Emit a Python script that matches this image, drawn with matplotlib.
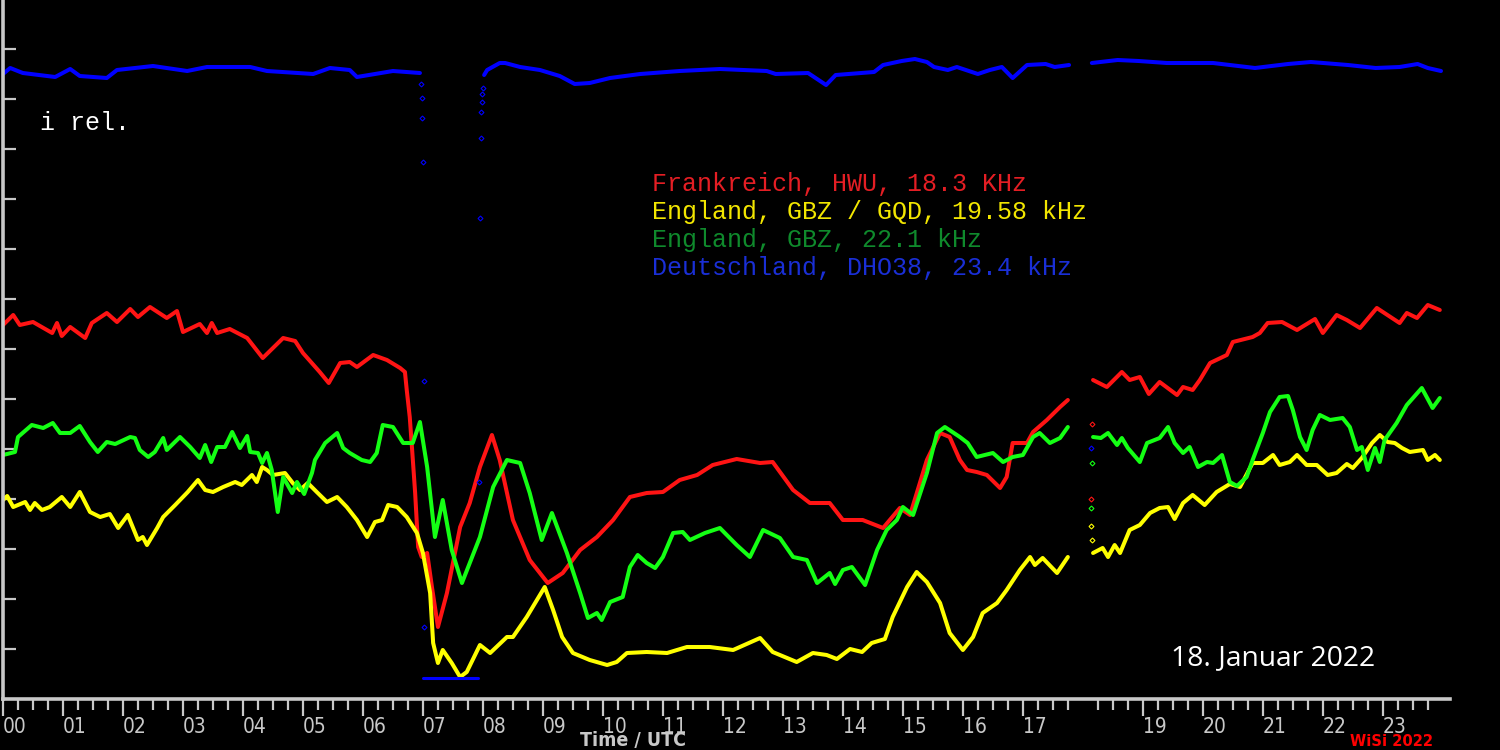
import matplotlib
matplotlib.use("Agg")
import matplotlib.pyplot as plt

# VLF receiver levels, 18 Jan 2022 (hours UTC, relative level)
# each station is split where the recording has gaps
red_a = [(0.00, 7.48), (0.17, 7.68), (0.28, 7.48), (0.50, 7.54), (0.82, 7.32), (0.90, 7.52),
         (0.98, 7.26), (1.12, 7.44), (1.37, 7.22), (1.48, 7.52), (1.73, 7.72), (1.90, 7.54),
         (2.12, 7.80), (2.25, 7.64), (2.45, 7.84), (2.73, 7.62), (2.90, 7.76), (3.00, 7.34),
         (3.28, 7.50), (3.40, 7.32), (3.48, 7.52), (3.57, 7.32), (3.78, 7.40), (4.07, 7.22),
         (4.33, 6.82), (4.67, 7.22), (4.87, 7.16), (5.00, 6.92), (5.28, 6.54), (5.43, 6.32),
         (5.62, 6.72), (5.78, 6.74), (5.90, 6.64), (6.17, 6.88), (6.40, 6.78), (6.62, 6.62),
         (6.70, 6.54), (6.73, 6.18), (6.78, 5.64), (6.82, 4.98), (6.87, 4.12), (6.92, 3.04),
         (6.98, 2.84), (7.07, 2.92), (7.15, 2.24), (7.25, 1.44), (7.40, 2.12), (7.62, 3.44),
         (7.78, 3.92), (7.95, 4.64), (8.15, 5.28), (8.28, 4.78), (8.50, 3.58), (8.78, 2.78),
         (9.08, 2.32), (9.33, 2.52), (9.62, 2.98), (9.90, 3.24), (10.17, 3.58), (10.45, 4.04),
         (10.73, 4.12), (11.00, 4.14), (11.28, 4.38), (11.57, 4.48), (11.83, 4.68), (12.23, 4.80),
         (12.62, 4.72), (12.83, 4.74), (13.17, 4.18), (13.45, 3.92), (13.78, 3.92), (14.00, 3.58),
         (14.33, 3.58), (14.67, 3.42), (14.95, 3.82), (15.12, 3.68), (15.40, 4.78), (15.62, 5.32),
         (15.78, 5.24), (15.95, 4.78), (16.07, 4.58), (16.23, 4.54), (16.40, 4.48), (16.62, 4.22),
         (16.73, 4.44), (16.83, 5.12), (17.07, 5.12), (17.17, 5.34), (17.40, 5.58), (17.62, 5.84),
         (17.75, 5.98)]
red_b = [(18.17, 6.38), (18.40, 6.24), (18.65, 6.54), (18.78, 6.38), (18.95, 6.44), (19.10, 6.10),
         (19.28, 6.34), (19.57, 6.08), (19.67, 6.24), (19.83, 6.18), (19.95, 6.38), (20.12, 6.72),
         (20.40, 6.88), (20.50, 7.14), (20.83, 7.24), (20.95, 7.32), (21.08, 7.52), (21.32, 7.54),
         (21.57, 7.38), (21.87, 7.60), (22.00, 7.32), (22.23, 7.68), (22.40, 7.58), (22.62, 7.42),
         (22.90, 7.82), (23.28, 7.52), (23.40, 7.72), (23.57, 7.62), (23.75, 7.88), (23.95, 7.78)]

yellow_a = [(0.00, 3.98), (0.07, 4.06), (0.17, 3.84), (0.37, 3.94), (0.45, 3.78), (0.53, 3.92),
            (0.65, 3.78), (0.78, 3.84), (0.98, 4.04), (1.12, 3.84), (1.28, 4.14), (1.45, 3.74),
            (1.62, 3.64), (1.78, 3.70), (1.92, 3.42), (2.08, 3.68), (2.25, 3.18), (2.33, 3.24),
            (2.40, 3.08), (2.57, 3.42), (2.67, 3.64), (2.87, 3.88), (3.08, 4.14), (3.25, 4.38),
            (3.37, 4.18), (3.50, 4.14), (3.67, 4.24), (3.87, 4.34), (3.98, 4.28), (4.15, 4.48),
            (4.23, 4.34), (4.32, 4.64), (4.40, 4.58), (4.50, 4.48), (4.70, 4.52), (4.83, 4.32),
            (4.95, 4.18), (5.08, 4.32), (5.23, 4.14), (5.40, 3.94), (5.57, 4.04), (5.73, 3.84),
            (5.90, 3.58), (6.07, 3.24), (6.20, 3.54), (6.32, 3.58), (6.42, 3.88), (6.57, 3.84),
            (6.73, 3.64), (6.90, 3.32), (7.00, 2.92), (7.12, 2.12), (7.17, 1.12), (7.25, 0.72),
            (7.33, 0.98), (7.48, 0.72), (7.62, 0.44), (7.73, 0.54), (7.95, 1.08), (8.12, 0.92),
            (8.40, 1.24), (8.50, 1.24), (8.73, 1.64), (9.03, 2.24), (9.17, 1.78), (9.32, 1.24),
            (9.50, 0.92), (9.78, 0.78), (10.07, 0.68), (10.23, 0.74), (10.40, 0.92), (10.73, 0.94),
            (11.07, 0.92), (11.40, 1.04), (11.78, 1.04), (12.17, 0.98), (12.62, 1.22), (12.83, 0.94),
            (13.23, 0.74), (13.50, 0.92), (13.73, 0.88), (13.90, 0.80), (14.12, 1.00), (14.32, 0.94),
            (14.48, 1.12), (14.70, 1.20), (14.83, 1.64), (15.07, 2.24), (15.23, 2.54), (15.40, 2.34),
            (15.62, 1.92), (15.78, 1.32), (16.00, 0.98), (16.17, 1.24), (16.33, 1.72), (16.57, 1.92),
            (16.73, 2.18), (16.95, 2.58), (17.12, 2.84), (17.20, 2.68), (17.33, 2.82), (17.57, 2.52),
            (17.75, 2.84)]
yellow_b = [(18.17, 2.92), (18.33, 3.02), (18.42, 2.84), (18.53, 3.08), (18.62, 2.92), (18.78, 3.38),
            (18.95, 3.48), (19.12, 3.72), (19.28, 3.82), (19.42, 3.84), (19.53, 3.60), (19.67, 3.92),
            (19.83, 4.08), (20.03, 3.88), (20.23, 4.14), (20.45, 4.30), (20.62, 4.24), (20.83, 4.72),
            (21.00, 4.72), (21.17, 4.88), (21.28, 4.68), (21.45, 4.74), (21.57, 4.88), (21.73, 4.68),
            (21.90, 4.68), (22.08, 4.48), (22.23, 4.52), (22.40, 4.70), (22.50, 4.62), (22.65, 4.82),
            (22.82, 5.12), (22.95, 5.28), (23.08, 5.14), (23.20, 5.12), (23.32, 5.02), (23.45, 4.94),
            (23.67, 4.98), (23.75, 4.78), (23.87, 4.88), (23.95, 4.78)]

green_a = [(0.00, 4.88), (0.20, 4.94), (0.25, 5.24), (0.48, 5.48), (0.67, 5.42), (0.83, 5.52),
           (0.95, 5.32), (1.12, 5.32), (1.28, 5.46), (1.45, 5.14), (1.58, 4.94), (1.73, 5.14),
           (1.87, 5.10), (2.12, 5.24), (2.20, 5.22), (2.28, 4.98), (2.42, 4.84), (2.53, 4.94),
           (2.67, 5.22), (2.73, 4.98), (2.95, 5.24), (3.12, 5.04), (3.28, 4.82), (3.37, 5.08),
           (3.47, 4.74), (3.57, 5.04), (3.70, 5.04), (3.82, 5.34), (3.95, 5.02), (4.07, 5.26),
           (4.12, 4.94), (4.25, 4.92), (4.32, 4.72), (4.40, 4.92), (4.48, 4.58), (4.58, 3.74),
           (4.67, 4.44), (4.82, 4.12), (4.90, 4.34), (5.02, 4.10), (5.15, 4.52), (5.20, 4.78),
           (5.37, 5.12), (5.57, 5.32), (5.67, 5.02), (5.78, 4.92), (5.98, 4.78), (6.12, 4.74),
           (6.23, 4.92), (6.33, 5.48), (6.50, 5.44), (6.67, 5.12), (6.83, 5.12), (6.95, 5.54),
           (7.07, 4.64), (7.20, 3.24), (7.33, 3.98), (7.48, 2.98), (7.65, 2.32), (7.95, 3.24),
           (8.17, 4.24), (8.40, 4.78), (8.62, 4.72), (8.78, 4.12), (8.98, 3.18), (9.15, 3.72),
           (9.40, 2.92), (9.62, 2.12), (9.75, 1.62), (9.90, 1.72), (9.98, 1.58), (10.12, 1.94),
           (10.33, 2.04), (10.45, 2.64), (10.58, 2.88), (10.73, 2.72), (10.87, 2.62), (11.00, 2.84),
           (11.17, 3.32), (11.33, 3.34), (11.45, 3.18), (11.70, 3.32), (11.95, 3.42), (12.23, 3.08),
           (12.45, 2.84), (12.67, 3.38), (12.95, 3.22), (13.17, 2.84), (13.40, 2.78), (13.57, 2.32),
           (13.78, 2.52), (13.87, 2.30), (14.00, 2.58), (14.15, 2.64), (14.37, 2.28), (14.57, 2.98),
           (14.73, 3.38), (14.90, 3.58), (15.00, 3.84), (15.17, 3.68), (15.40, 4.52), (15.57, 5.32),
           (15.70, 5.44), (15.95, 5.24), (16.08, 5.12), (16.23, 4.84), (16.50, 4.92), (16.67, 4.74),
           (16.83, 4.84), (17.00, 4.88), (17.17, 5.24), (17.28, 5.32), (17.45, 5.12), (17.62, 5.22),
           (17.75, 5.44)]
green_b = [(18.17, 5.24), (18.30, 5.22), (18.42, 5.32), (18.57, 5.08), (18.65, 5.22), (18.75, 5.02),
           (18.95, 4.74), (19.07, 5.12), (19.28, 5.22), (19.42, 5.44), (19.53, 5.12), (19.67, 4.92),
           (19.78, 5.04), (19.92, 4.64), (20.07, 4.74), (20.17, 4.72), (20.32, 4.88), (20.45, 4.34),
           (20.57, 4.26), (20.73, 4.44), (20.83, 4.78), (21.00, 5.32), (21.12, 5.74), (21.28, 6.04),
           (21.42, 6.06), (21.50, 5.78), (21.62, 5.24), (21.73, 4.98), (21.83, 5.38), (21.95, 5.68),
           (22.12, 5.58), (22.33, 5.62), (22.45, 5.44), (22.57, 4.98), (22.65, 5.04), (22.75, 4.58),
           (22.87, 5.02), (22.95, 4.74), (23.03, 5.18), (23.23, 5.52), (23.40, 5.88), (23.65, 6.22),
           (23.83, 5.82), (23.95, 6.02)]

blue_a = [(0.00, 12.50), (0.12, 12.62), (0.33, 12.52), (0.87, 12.44), (1.12, 12.60), (1.28, 12.46),
          (1.73, 12.42), (1.90, 12.58), (2.50, 12.66), (3.07, 12.56), (3.40, 12.64), (4.12, 12.64),
          (4.40, 12.56), (5.17, 12.50), (5.45, 12.62), (5.78, 12.58), (5.90, 12.44), (6.50, 12.56),
          (6.95, 12.52)]
blue_low = [(7.00, 0.42), (7.92, 0.42)]
blue_b = [(8.02, 12.48), (8.07, 12.58), (8.28, 12.72), (8.37, 12.72), (8.62, 12.64), (8.95, 12.58),
          (9.28, 12.46), (9.53, 12.30), (9.78, 12.32), (10.12, 12.42), (10.62, 12.50), (11.28, 12.56),
          (11.95, 12.60), (12.73, 12.56), (12.88, 12.50), (13.42, 12.52), (13.72, 12.28), (13.88, 12.48),
          (14.52, 12.54), (14.67, 12.68), (14.98, 12.76), (15.20, 12.80), (15.40, 12.74), (15.52, 12.64),
          (15.75, 12.58), (15.90, 12.64), (16.25, 12.50), (16.45, 12.58), (16.65, 12.64), (16.83, 12.42),
          (17.07, 12.68), (17.38, 12.70), (17.53, 12.64), (17.77, 12.68)]
blue_c = [(18.15, 12.72), (18.58, 12.78), (18.93, 12.76), (19.40, 12.72), (20.17, 12.72), (20.87, 12.62),
          (21.42, 12.70), (21.80, 12.74), (22.42, 12.68), (22.88, 12.62), (23.28, 12.64), (23.58, 12.70),
          (23.75, 12.62), (23.97, 12.56)]

# single samples while the receiver drops out / comes back
blue_drop = [(6.97, 12.30), (6.98, 12.02), (6.99, 11.62), (7.00, 10.74), (7.01, 6.36), (7.02, 1.44)]
blue_back = [(7.93, 4.34), (7.95, 9.62), (7.96, 11.22), (7.97, 11.74), (7.98, 11.94), (7.99, 12.10),
             (8.00, 12.22)]
red_restart = [(18.15, 5.50), (18.14, 4.00)]
green_restart = [(18.15, 4.72), (18.14, 3.82)]
yellow_restart = [(18.14, 3.46), (18.15, 3.18)]
blue_restart = [(18.14, 5.02)]

hour_ticks = [h for h in range(24) if h != 18]
hour_labels = [f"{h:02d}" for h in hour_ticks]

legend_lines = [
    ("Frankreich, HWU, 18.3 KHz", "#e41e24"),
    ("England, GBZ / GQD, 19.58 kHz", "#f2e600"),
    ("England, GBZ, 22.1 kHz", "#0f8a2c"),
    ("Deutschland, DHO38, 23.4 kHz", "#1a2fd6"),
]

AXIS_GREY = "#c8c8c8"
NARROW = dict(family="DejaVu Sans", fontstretch="condensed")


def xy(points):
    return [p[0] for p in points], [p[1] for p in points]


def trace(ax, points, color, lw=2.9):
    x, y = xy(points)
    ax.plot(x, y, color=color, lw=lw, solid_joinstyle="round", solid_capstyle="round")


def dots(ax, points, color, size=2.5):
    x, y = xy(points)
    ax.plot(x, y, ls="none", marker="D", ms=size, mfc="none", mec=color, mew=0.8)


def main():
    fig = plt.figure(figsize=(15, 7.5), dpi=100, facecolor="black")
    ax = fig.add_axes([3 / 1500, 51 / 750, 1447 / 1500, 699 / 750])
    ax.set_facecolor("black")

    for seg in (red_a, red_b):
        trace(ax, seg, "#ff1414")
    for seg in (yellow_a, yellow_b):
        trace(ax, seg, "#ffff00")
    for seg in (green_a, green_b):
        trace(ax, seg, "#14ff14")
    for seg in (blue_a, blue_b, blue_c):
        trace(ax, seg, "#0000ff")
    trace(ax, blue_low, "#0000ff", lw=2.2)

    dots(ax, blue_drop, "#0000ff")
    dots(ax, blue_back, "#0000ff")
    dots(ax, red_restart, "#ff1414")
    dots(ax, green_restart, "#14ff14")
    dots(ax, yellow_restart, "#ffff00")
    dots(ax, blue_restart, "#0000ff")

    ax.set_xlim(0, 24.12)
    ax.set_ylim(0, 13.98)

    for side in ("top", "right"):
        ax.spines[side].set_visible(False)
    for side in ("left", "bottom"):
        ax.spines[side].set_color(AXIS_GREY)
        ax.spines[side].set_linewidth(2.6)

    ax.set_xticks(hour_ticks)
    ax.set_xticklabels(hour_labels, ha="left", fontsize=15, color=AXIS_GREY, **NARROW)
    ax.set_xticks([h + q for h in range(24) for q in (0.25, 0.5, 0.75)], minor=True)
    ax.tick_params(axis="x", which="major", direction="out", length=12.5, width=1.6,
                   color=AXIS_GREY, pad=0.5)
    ax.tick_params(axis="x", which="minor", direction="out", length=8, width=1.6, color=AXIS_GREY)

    ax.set_yticks(range(1, 14))
    ax.tick_params(axis="y", which="major", direction="in", length=9.5, width=1.6,
                   color=AXIS_GREY, labelleft=False)

    # annotations
    fig.text(40 / 1500, 1 - 123 / 750, "i rel.", color="white", family="Liberation Mono",
             fontsize=18, va="center", ha="left")
    for i, (label, color) in enumerate(legend_lines):
        fig.text(652 / 1500, 1 - (184 + 28 * i) / 750, label, color=color,
                 family="Liberation Mono", fontsize=18, va="center", ha="left")
    fig.text(1171 / 1500, 1 - 658 / 750, "18. Januar 2022", color="white",
             family="Open Sans", fontsize=20.3, va="center", ha="left")
    fig.text(580 / 1500, 1 - 741 / 750, "Time / UTC", color=AXIS_GREY,
             fontweight="bold", fontsize=14, va="center", ha="left", **NARROW)
    fig.text(1350 / 1500, 1 - 741 / 750, "WiSi 2022", color="#ff0000",
             fontweight="bold", fontsize=11.8, va="center", ha="left", **NARROW)

    fig.savefig("out.png", dpi=100, facecolor="black")


if __name__ == "__main__":
    main()
